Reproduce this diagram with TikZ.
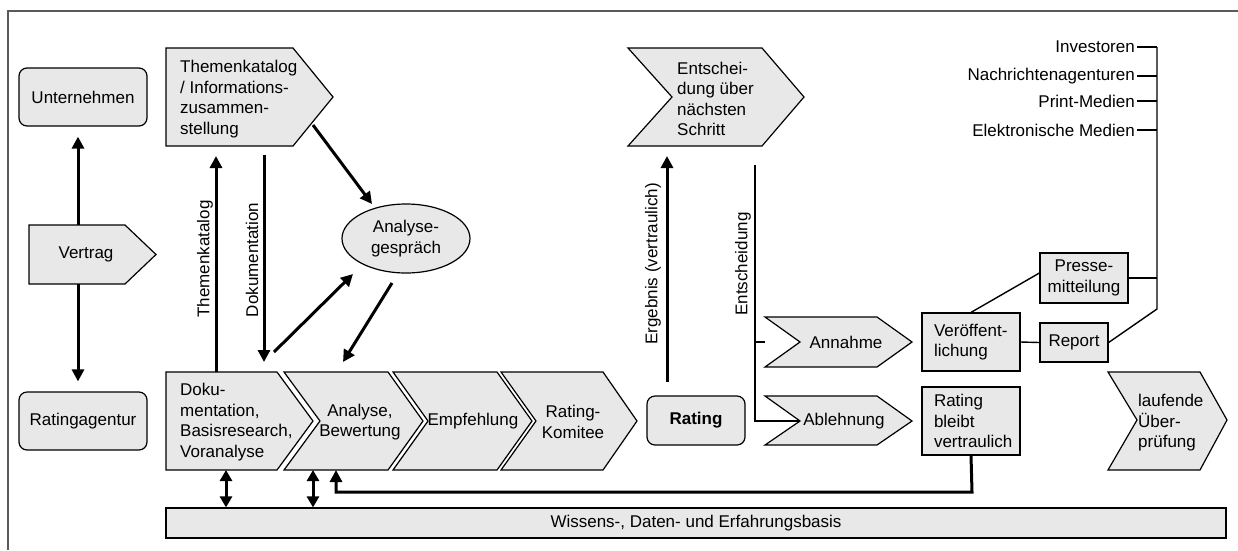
\documentclass[tikz,border=0pt]{standalone}
\usepackage{fontspec}
\setmainfont{Liberation Sans}
\usetikzlibrary{arrows.meta,calc,shapes.geometric}
\definecolor{boxgray}{RGB}{232,232,232}
\definecolor{framegray}{RGB}{90,90,90}
\newcommand\lbl{\fontsize{17}{20.5}\selectfont}
\begin{document}
\begin{tikzpicture}[x=1pt,y=-1pt,
  shp/.style={draw=black, fill=boxgray, line width=1.2pt, line join=miter},
  rbox/.style={shp, rounded corners=8pt, font=\lbl, inner sep=0pt},
  sbox/.style={shp, font=\lbl, inner sep=0pt},
  txt/.style={font=\lbl, inner sep=0pt, align=left},
  ctxt/.style={font=\lbl, inner sep=0pt, align=center},
  arr/.style={line width=3pt, -{Triangle[length=12pt,width=12pt]}},
  darr/.style={line width=3pt, {Triangle[length=11pt,width=12pt]}-{Triangle[length=11pt,width=12pt]}},
  thin/.style={line width=1.4pt}]
\useasboundingbox (0,0) rectangle (1238,550);

% outer frame
\draw[framegray, line width=1.5pt] (8,550) -- (8,11) -- (1238,11);

% parties
\node[rbox, minimum width=128pt, minimum height=58pt] (un) at (83,97) {Unternehmen};
\node[rbox, minimum width=128pt, minimum height=58pt] (ra) at (83,421) {Ratingagentur};

% contract
\draw[shp] (29,225) -- (125,225) -- (156,254.5) -- (125,284) -- (29,284) -- cycle;
\node[ctxt] (vt) at (86,254) {Vertrag};
\coordinate (vtop) at (78,225);
\coordinate (vbot) at (78,284);
\draw[arr, shorten >=10pt] (vtop) -- (vtop |- un.south);
\draw[arr, shorten >=10pt] (vbot) -- (vbot |- ra.north);

% topic catalogue
\draw[shp] (166,48) -- (293,48) -- (333,97) -- (293,146) -- (166,146) -- cycle;
\node[txt, anchor=west] (tk) at (180,99) {Themenkatalog\\/ Informations-\\zusammen-\\stellung};

% process chain
\draw[shp] (166,372) -- (277,372) -- (313,421) -- (277,470) -- (166,470) -- cycle;
\node[txt, anchor=west] (doku) at (180,422) {Doku-\\mentation,\\Basisresearch,\\Voranalyse};
\draw[shp] (284,372) -- (388,372) -- (423,421) -- (388,470) -- (284,470) -- (320,421) -- cycle;
\node[ctxt] (an) at (360,422) {Analyse,\\Bewertung};
\draw[shp] (393,372) -- (497,372) -- (532,421) -- (497,470) -- (393,470) -- (428,421) -- cycle;
\node[ctxt] (em) at (473,421) {Empfehlung};
\draw[shp] (501,372) -- (603,372) -- (637,421) -- (603,470) -- (501,470) -- (536,421) -- cycle;
\node[ctxt] (rk) at (573,422) {Rating-\\Komitee};

\node[rbox, minimum width=98pt, minimum height=49pt, font=\lbl\bfseries] (rt) at (696,420.5) {Rating};

% analysis meeting
\node[shp, ellipse, minimum width=128pt, minimum height=69pt, font=\lbl, align=center, inner sep=0pt] (ag) at (406,238.5) {Analyse-\\gespräch};

% catalogue / documentation arrows
\coordinate (tkb) at (216,372);
\coordinate (tkt) at (216,146);
\draw[arr, shorten >=10pt] (tkb) -- (tkt);
\node[font=\lbl, inner sep=0pt, rotate=90] (lt) at (205,259) {Themenkatalog};
\coordinate (dkt) at (264,155);
\coordinate (dkb) at (264,362);
\draw[arr] (dkt) -- (dkb);
\node[font=\lbl, inner sep=0pt, rotate=90] (ld) at (252,260) {Dokumentation};

\coordinate (a1s) at (313,125);
\coordinate (a1e) at (372,204);
\draw[arr] (a1s) -- (a1e);
\coordinate (a2s) at (274,352);
\coordinate (a2e) at (353,274);
\draw[arr] (a2s) -- (a2e);
\coordinate (a3s) at (392,283);
\coordinate (a3e) at (343,362);
\draw[arr] (a3s) -- (a3e);

% decision on next step
\draw[shp] (628,48) -- (762,48) -- (804,97) -- (762,146) -- (628,146) -- (672,97) -- cycle;
\node[txt, anchor=west] (es) at (677,99) {Entschei-\\dung über\\nächsten\\Schritt};

\coordinate (erb) at (667,382);
\coordinate (ert) at (667,146);
\draw[arr, shorten >=10pt] (erb) -- (ert);
\node[font=\lbl, inner sep=0pt, rotate=90] (le) at (653,264) {Ergebnis (vertraulich)};

% acceptance / rejection
\draw[shp] (765,317) -- (877,317) -- (912,342) -- (877,367) -- (765,367) -- (800,342) -- cycle;
\node[ctxt] (ann) at (846,342) {Annahme};
\draw[shp] (765,396) -- (877,396) -- (912,421) -- (877,445) -- (765,445) -- (800,421) -- cycle;
\node[ctxt] (abl) at (844,421) {Ablehnung};

\coordinate (ent) at (755,165);
\coordinate (annl) at (765,342);
\coordinate (abln) at (800,421);
\draw[thin] (ent) -- (ent |- abln) -- (abln);
\draw[thin] (ent |- annl) -- (annl);
\node[font=\lbl, inner sep=0pt, rotate=90] (lent) at (743,264) {Entscheidung};

% publication
\node[sbox, minimum width=98pt, minimum height=58pt, text width=74pt, align=left] (vo) at (971,342) {Veröffent-\\lichung};
\node[sbox, minimum width=98pt, minimum height=68pt, text width=74pt, align=left] (vv) at (971,421) {Rating\\bleibt\\vertraulich};
\node[sbox, minimum width=68pt, minimum height=39pt] (rp) at (1074,342.5) {Report};
\node[sbox, minimum width=88pt, minimum height=50pt, align=center] (pm) at (1084,278) {Presse-\\mitteilung};

\draw[thin] (vo.east) -- (rp.west);
\draw[thin] (vo.north) -- ([yshift=5pt]pm.west);

% distribution bus
\coordinate (bust) at (1157,47);
\coordinate (busb) at (1157,309);
\draw[thin] (bust) -- (busb) -- (rp.east);
\draw[thin] (pm.east) -- (pm.east -| busb);

\node[font=\lbl, inner sep=2pt, anchor=east] (inv) at (1137,47) {Investoren};
\node[font=\lbl, inner sep=2pt, anchor=east] (na) at (1137,76) {Nachrichtenagenturen};
\node[font=\lbl, inner sep=2pt, anchor=east] (pr) at (1137,101) {Print-Medien};
\node[font=\lbl, inner sep=2pt, anchor=east] (el) at (1137,130) {Elektronische Medien};
\foreach \n in {inv,na,pr,el} \draw[thin] (\n.east) -- (\n.east -| bust);

% ongoing monitoring
\draw[shp] (1108,372) -- (1200,372) -- (1227,420) -- (1200,470) -- (1108,470) -- (1137,420) -- cycle;
\node[txt, anchor=west] (lu) at (1138,423) {laufende\\Über-\\prüfung};

% knowledge base
\node[sbox, minimum width=1060pt, minimum height=30pt] (wb) at (696,523) {Wissens-, Daten- und Erfahrungsbasis};

\coordinate (d1t) at (226,470);
\coordinate (d2t) at (313,470);
\draw[darr] (d1t) -- (d1t |- wb.north);
\draw[darr] (d2t) -- (d2t |- wb.north);

\coordinate (fbk) at (336,470);
\draw[arr] (vv.south) -- (972,492) -- (fbk |- 0,492) -- (fbk);
\end{tikzpicture}
\end{document}
